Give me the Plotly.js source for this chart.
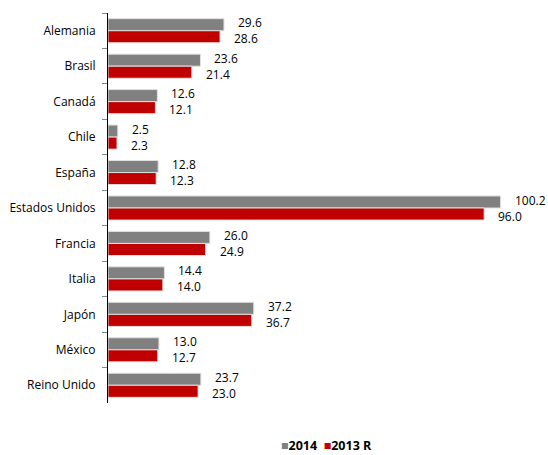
<!DOCTYPE html>
<html>
<head>
<meta charset="utf-8">
<script src="https://cdn.plot.ly/plotly-3.0.1.min.js"></script>
<style>html,body{margin:0;padding:0;background:#fff;}#chart{width:548px;height:455px;}</style>
</head>
<body>
<div id="chart"></div>
<script>
const categories = ["Alemania","Brasil","Canadá","Chile","España","Estados Unidos","Francia","Italia","Japón","México","Reino Unido"];
const values2014 = [29.6,23.6,12.6,2.5,12.8,100.2,26.0,14.4,37.2,13.0,23.7];
const values2013R = [28.6,21.4,12.1,2.3,12.3,96.0,24.9,14.0,36.7,12.7,23.0];
const seriesNames = ["2014","2013 R"];
const seriesColors = ["#808080","#C00000"];

const FONT = "'Open Sans', 'Noto Sans', sans-serif";
const series = [values2014, values2013R];

const traces = series.map((vals, i) => ({
  type: "bar",
  orientation: "h",
  name: seriesNames[i],
  y: categories,
  x: vals,
  marker: {color: seriesColors[i], line: {color: "#e0e0e0", width: 1}},
  hoverinfo: "skip",
  showlegend: false
}));

const yshifts = [8, -8];
const valueLabels = [];
series.forEach((vals, i) => {
  vals.forEach((v, j) => {
    valueLabels.push({
      x: v, y: categories[j], xref: "x", yref: "y",
      xanchor: "left", yanchor: "middle",
      xshift: 13, yshift: yshifts[i],
      showarrow: false, borderpad: 0,
      text: v.toFixed(1),
      font: {family: FONT, size: 12, color: "#000"}
    });
  });
});

const legendText = seriesNames.map((n, i) =>
  "<span style='color:" + seriesColors[i] + "'>■</span><b>" + n + "</b>").join("\u00a0\u00a0");

const layout = {
  width: 548,
  height: 455,
  margin: {l: 108, r: 9, t: 13, b: 52},
  paper_bgcolor: "#fff",
  plot_bgcolor: "#fff",
  barmode: "group",
  bargap: 0.32,
  bargroupgap: 0,
  font: {family: FONT, size: 12, color: "#000"},
  xaxis: {
    range: [0, 110],
    visible: false,
    showgrid: false,
    zeroline: false
  },
  yaxis: {
    type: "category",
    autorange: "reversed",
    showline: true,
    linecolor: "#000",
    linewidth: 1,
    ticks: "outside",
    tickson: "boundaries",
    ticklen: 5,
    tickcolor: "#888",
    ticklabelstandoff: 9,
    showgrid: false,
    zeroline: false,
    tickfont: {family: FONT, size: 12, color: "#000"}
  },
  showlegend: false,
  annotations: valueLabels.concat([{
    xref: "paper", yref: "paper",
    x: 0.508, y: -0.108,
    xanchor: "center", yanchor: "middle",
    showarrow: false,
    text: legendText,
    font: {family: FONT, size: 12.5, color: "#000"}
  }])
};

Plotly.newPlot("chart", traces, layout, {displayModeBar: false, staticPlot: true});
</script>
</body>
</html>
